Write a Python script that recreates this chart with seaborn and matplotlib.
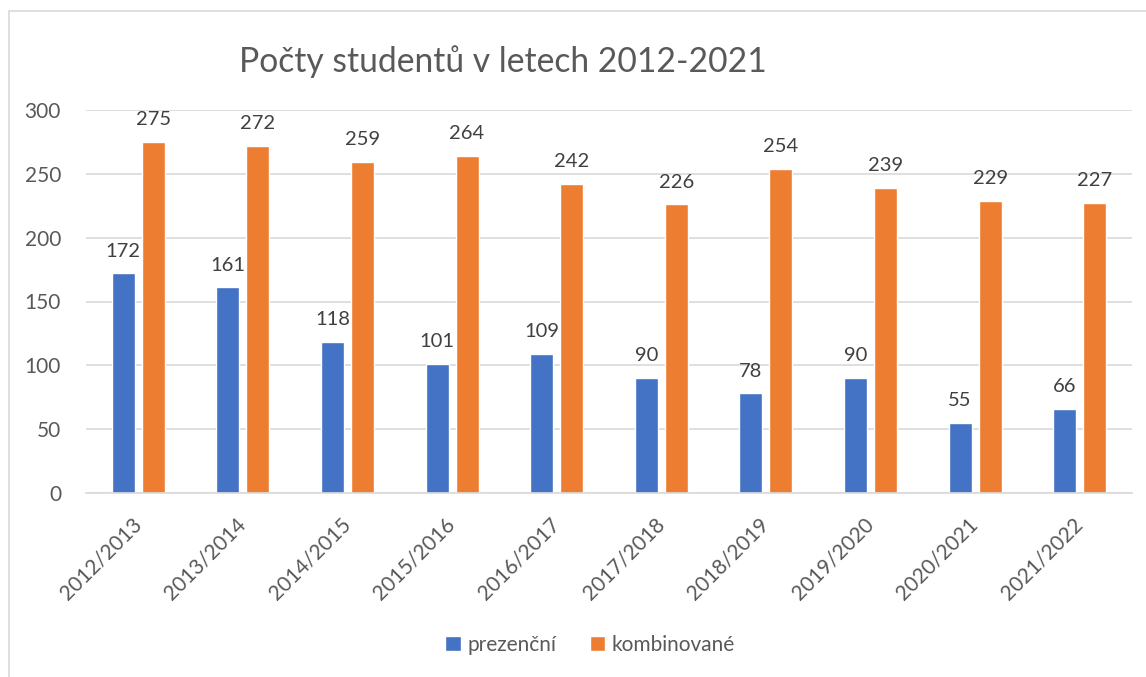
import matplotlib
matplotlib.use('Agg')
import matplotlib.pyplot as plt
import seaborn as sns
import pandas as pd
from matplotlib.patches import Rectangle

# data
years = ['2012/2013', '2013/2014', '2014/2015', '2015/2016', '2016/2017',
         '2017/2018', '2018/2019', '2019/2020', '2020/2021', '2021/2022']
prezencni = [172, 161, 118, 101, 109, 90, 78, 90, 55, 66]
kombinovane = [275, 272, 259, 264, 242, 226, 254, 239, 229, 227]
series_names = ['prezenční', 'kombinované']
title = 'Počty studentů v letech 2012-2021'

df = pd.DataFrame({'rok': years * 2,
                   'pocet': prezencni + kombinovane,
                   'forma': [series_names[0]] * len(years) + [series_names[1]] * len(years)})

sns.set_style('white')
plt.rcParams['font.family'] = ['Lato', 'DejaVu Sans']

fig = plt.figure(figsize=(11.46, 6.77), dpi=100)
ax = fig.add_axes([86 / 1146, 1 - 493 / 677, (1132 - 86) / 1146, 383 / 677])

sns.barplot(data=df, x='rok', y='pocet', hue='forma', hue_order=series_names,
            palette=['#4472C4', '#ED7D31'], width=0.573, gap=0.23,
            saturation=1, ax=ax, legend=True)

ax.set_ylim(0, 300)
ax.set_xlim(-0.5, len(years) - 0.5)
ax.set_yticks(range(0, 301, 50))
ax.yaxis.grid(True, color='#D9D9D9', linewidth=1.2)
ax.set_axisbelow(True)
for s in ['top', 'right', 'left']:
    ax.spines[s].set_visible(False)
ax.spines['bottom'].set_color('#D9D9D9')
ax.spines['bottom'].set_linewidth(1.2)
ax.tick_params(axis='both', length=0, labelsize=15, colors='#595959')
ax.tick_params(axis='y', pad=18)
ax.tick_params(axis='x', pad=20)
plt.setp(ax.get_xticklabels(), rotation=45, ha='right', va='center', rotation_mode='anchor')
ax.set_xlabel('')
ax.set_ylabel('')

for c in ax.containers:
    ax.bar_label(c, padding=10, fontsize=14.5, color='#404040', clip_on=False)

ax.get_legend().remove()
handles, labels = ax.get_legend_handles_labels()
fig.legend(handles, labels, loc='center', bbox_to_anchor=(590 / 1146, 1 - 645 / 677),
           ncol=2, frameon=False, fontsize=15, handlelength=0.75, handleheight=0.75,
           handletextpad=0.3, columnspacing=1.6, labelcolor='#595959')

fig.text(503 / 1146, 1 - 62 / 677, title, ha='center', va='center',
         fontsize=24.2, color='#595959')

# chart border
fig.patches.append(Rectangle((9 / 1146, -0.05), 1.2, 1 - 11 / 677 + 0.05,
                             transform=fig.transFigure, fill=False,
                             edgecolor='#D9D9D9', linewidth=1.2))

fig.savefig('out.png', dpi=100)
